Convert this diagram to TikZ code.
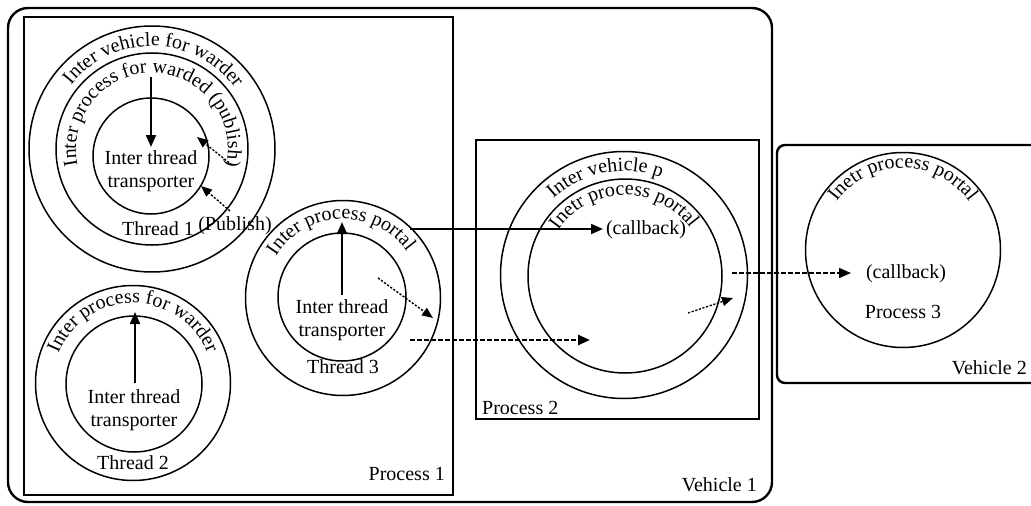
\documentclass[tikz,border=0pt]{standalone}
\usepackage{fontspec}
\setmainfont{Liberation Serif}
\usetikzlibrary{arrows.meta,decorations.text}
\newcommand{\dfont}{\fontsize{20}{23}\selectfont}
\begin{document}
\begin{tikzpicture}[x=1pt,y=1pt,font=\dfont,
  vehbox/.style={draw, line width=2.4pt, rounded corners=#1, inner sep=0pt},
  procbox/.style={draw, line width=2pt, inner sep=0pt},
  ring/.style={draw, circle, line width=1.5pt, inner sep=0pt, minimum size=#1},
  lbl/.style={inner sep=1pt, align=center},
  solidarr/.style={line width=2pt, -{Triangle[length=12pt,width=10pt]}},
  dotarr/.style={line width=1.4pt, dash pattern=on 2.2pt off 1.6pt, -{Triangle[length=11pt,width=9pt]}},
  dasharr/.style={line width=#1, dash pattern=on 5pt off 2pt, -{Triangle[length=12pt,width=10pt]}},
  arctext/.style={decorate, decoration={text along path, text align=center, text={|\dfont|#1}}},
]
\useasboundingbox (0,0) rectangle (1031,-506);

% Vehicles and processes
\node[vehbox=20pt, minimum width=764pt, minimum height=494pt] (veh1) at (390,-255) {};
\begin{scope}
  \clip (0,0) rectangle (1031,-506);
  \node[vehbox=8pt, minimum width=290pt, minimum height=238pt] (veh2) at (922,-264) {};
\end{scope}
\node[procbox, minimum width=429pt, minimum height=478pt] (proc1) at (238.5,-256) {};
\node[procbox, minimum width=283pt, minimum height=279pt] (proc2) at (617.5,-279.5) {};

% Thread 1
\node[ring=246pt] (t1o) at (152,-149) {};
\node[ring=192pt] (t1m) at (152,-149) {};
\node[ring=116pt] (t1i) at (151,-156) {};
% Thread 2
\node[ring=195pt] (t2o) at (133,-383) {};
\node[ring=136pt] (t2i) at (134,-384) {};
% Thread 3
\node[ring=195pt] (t3o) at (343,-298) {};
\node[ring=128pt] (t3i) at (342,-297) {};
% Process 2
\node[ring=247pt] (p2o) at (624,-275) {};
\node[ring=194pt] (p2i) at (625,-276) {};
% Process 3
\node[ring=195pt] (p3) at (903,-250) {};

% Arc texts
\path[arctext={Inter vehicle for  warder}] (t1o.center) ++(209:103pt) arc[start angle=209, end angle=-31, radius=103pt];
\path[arctext={Inter process for warded (publish)}] (t1m.center) ++(210:76pt) arc[start angle=210, end angle=-30, radius=76pt];
\path[arctext={Inter process  for warder}] (t2o.center) ++(210:80pt) arc[start angle=210, end angle=-30, radius=80pt];
\path[arctext={Inter process portal}] (t3o.center) ++(212:79pt) arc[start angle=212, end angle=-28, radius=79pt];
\path[arctext={Inter vehicle p}] (p2o.center) ++(221:104pt) arc[start angle=221, end angle=-19, radius=104pt];
\path[arctext={Inetr process portal}] (p2i.center) ++(211:81pt) arc[start angle=211, end angle=-29, radius=81pt];
\path[arctext={Inetr process portal}] (p3.center) ++(210:82pt) arc[start angle=210, end angle=-30, radius=82pt];

% Labels
\node[lbl] (t1txt) at (151,-171) {Inter thread\\transporter};
\node[lbl] (t1lbl) at (158,-229) {Thread 1};
\node[lbl] (pub) at (235,-226) {(Publish)};
\node[lbl] (t2txt) at (134,-410) {Inter thread\\transporter};
\node[lbl] (t2lbl) at (133,-463) {Thread 2};
\node[lbl] (t3txt) at (342,-320) {Inter thread\\transporter};
\node[lbl] (t3lbl) at (343,-367) {Thread 3};
\node[lbl, anchor=east] (p1lbl) at (446,-474) {Process 1};
\node[lbl, anchor=west] (p2lbl) at (481,-408) {Process 2};
\node[lbl, anchor=east] (v1lbl) at (758,-485) {Vehicle 1};
\node[lbl, anchor=east] (v2lbl) at (1028,-368) {Vehicle 2};
\node[lbl] (cb2) at (646,-230) {(callback)};
\node[lbl] (cb3) at (906,-274) {(callback)};
\node[lbl] (p3lbl) at (903,-312) {Process 3};

% Connector end points
\coordinate (a1s) at (151,-77);
\coordinate (a1e) at (151,-147);
\coordinate (d1s) at (232,-165);
\coordinate (d1e) at (197,-137);
\coordinate (d2s) at (230,-211);
\coordinate (d2e) at (201,-186);
\coordinate (a2s) at (135,-383);
\coordinate (a2e) at (135,-312);
\coordinate (a3s) at (342,-295);
\coordinate (a3e) at (342,-222);
\coordinate (d3s) at (378,-278);
\coordinate (d3e) at (433,-318);
\coordinate (ps) at (410,-229);
\coordinate (pe) at (603,-229);
\coordinate (ls) at (410,-340);
\coordinate (le) at (590,-340);
\coordinate (d4s) at (688,-313);
\coordinate (d4e) at (733,-298);
\coordinate (ms) at (732,-273);
\coordinate (me) at (851,-273);

% Connectors
\draw[solidarr] (a1s) -- (a1e);
\draw[dotarr] (d1s) -- (d1e);
\draw[dotarr] (d2s) -- (d2e);
\draw[solidarr] (a2s) -- (a2e);
\draw[solidarr] (a3s) -- (a3e);
\draw[dotarr] (d3s) -- (d3e);
\draw[solidarr] (ps) -- (pe);
\draw[dasharr=2.5pt] (ls) -- (le);
\draw[dotarr] (d4s) -- (d4e);
\draw[dasharr=1.8pt] (ms) -- (me);
\end{tikzpicture}
\end{document}
